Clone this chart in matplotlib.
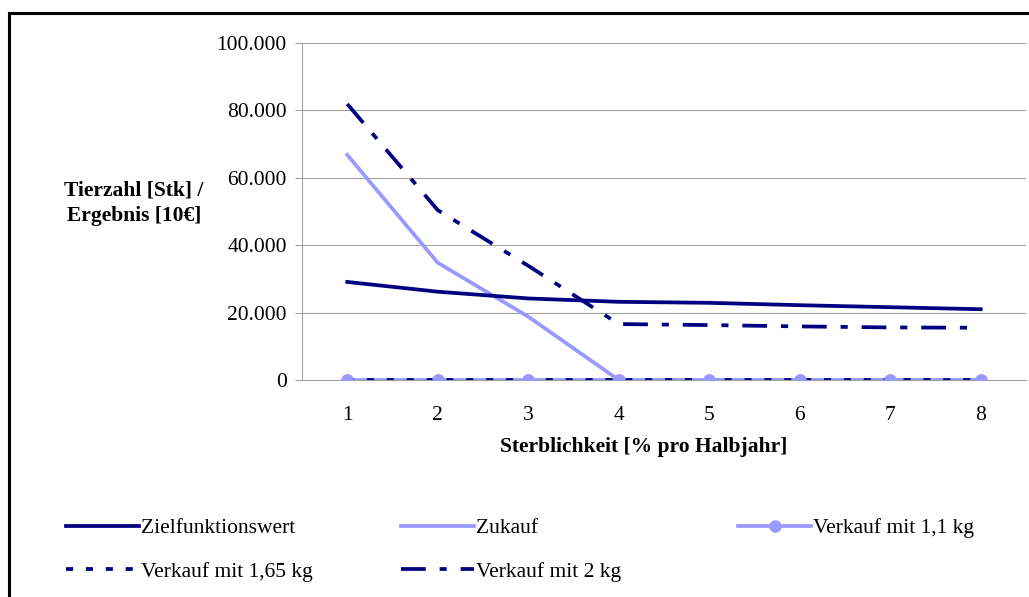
import matplotlib.pyplot as plt
import matplotlib.patches as mpatches
from matplotlib.ticker import FuncFormatter

plt.rcParams['font.family'] = ['Liberation Serif', 'DejaVu Serif']

# Data
sterblichkeit = [1, 2, 3, 4, 5, 6, 7, 8]
zielfunktionswert = [29100, 26200, 24200, 23200, 22900, 22200, 21600, 21000]
zukauf = [66800, 34800, 18800, 0, 0, 0, 0, 0]
verkauf_1_1 = [0, 0, 0, 0, 0, 0, 0, 0]
verkauf_1_65 = [0, 0, 0, 0, 0, 0, 0, 0]
verkauf_2 = [81900, 50400, 33900, 16600, 16300, 15900, 15600, 15500]

navy = '#000080'
light = '#9999ff'
grid_col = '#a0a0a0'
fs = 15.5

fig = plt.figure(figsize=(10.29, 5.97), dpi=100)
ax = fig.add_axes([302 / 1029, 1 - 380 / 597, 724 / 1029, 337 / 597])

lw = 2.7
l_ziel, = ax.plot(sterblichkeit, zielfunktionswert, color=navy, lw=lw, zorder=4)
l_zuk, = ax.plot(sterblichkeit, zukauf, color=light, lw=lw, zorder=3)
l_11, = ax.plot(sterblichkeit, verkauf_1_1, color=light, lw=lw, marker='o',
                markersize=8, zorder=3)
l_165, = ax.plot(sterblichkeit, verkauf_1_65, color=navy, lw=lw, zorder=4,
                 dashes=(1.9, 3.4), dash_capstyle='butt')
ax.plot(sterblichkeit, verkauf_1_1, ls='none', marker='o', markersize=8,
        color=light, zorder=5)
l_2, = ax.plot(sterblichkeit, verkauf_2, color=navy, lw=lw, zorder=4,
               dashes=(6.6, 3.7, 1.9, 3.7), dash_capstyle='butt')

ax.set_xlim(0.5, 8.5)
ax.set_ylim(0, 100000)
ax.set_xticks(sterblichkeit)
ax.set_yticks([0, 20000, 40000, 60000, 80000, 100000])
ax.yaxis.set_major_formatter(FuncFormatter(lambda v, p: f'{int(v):,}'.replace(',', '.')))
ax.tick_params(axis='x', length=0, pad=19, labelsize=fs)
ax.tick_params(axis='y', length=5, width=0.75, color=grid_col, pad=6, labelsize=fs)
ax.grid(axis='y', color=grid_col, lw=0.75)
ax.set_axisbelow(True)
for s in ['top', 'right']:
    ax.spines[s].set_visible(False)
for s in ['left', 'bottom']:
    ax.spines[s].set_color(grid_col)
    ax.spines[s].set_linewidth(0.75)

fig.text(134 / 1029, 1 - 203 / 597, 'Tierzahl [Stk] /\nErgebnis [10€]',
         ha='center', va='center', fontsize=fs, fontweight='bold', linespacing=1.4)
fig.text(644 / 1029, 1 - 447 / 597, 'Sterblichkeit [% pro Halbjahr]',
         ha='center', va='center', fontsize=fs, fontweight='bold')

# legend in three columns, placed like the original
cols = [([l_ziel, l_165], ['Zielfunktionswert', 'Verkauf mit 1,65 kg'], 66),
        ([l_zuk, l_2], ['Zukauf', 'Verkauf mit 2 kg'], 401),
        ([l_11], ['Verkauf mit 1,1 kg'], 738)]
for handles, labels, x0 in cols:
    fig.legend(handles, labels, loc='upper left',
               bbox_to_anchor=(x0 / 1029, 1 - 518 / 597), frameon=False,
               fontsize=fs, handlelength=3.4, handletextpad=0.1,
               borderpad=0, borderaxespad=0, labelspacing=1.1)

# outer chart frame (right and bottom edges fall outside the image)
fig.patches.append(mpatches.Rectangle((9 / 1029, -0.1), 1.2, 1 - 13 / 597 + 0.1,
                                      transform=fig.transFigure, fill=False,
                                      edgecolor='black', lw=2.2))

fig.savefig('out.png', dpi=100)
